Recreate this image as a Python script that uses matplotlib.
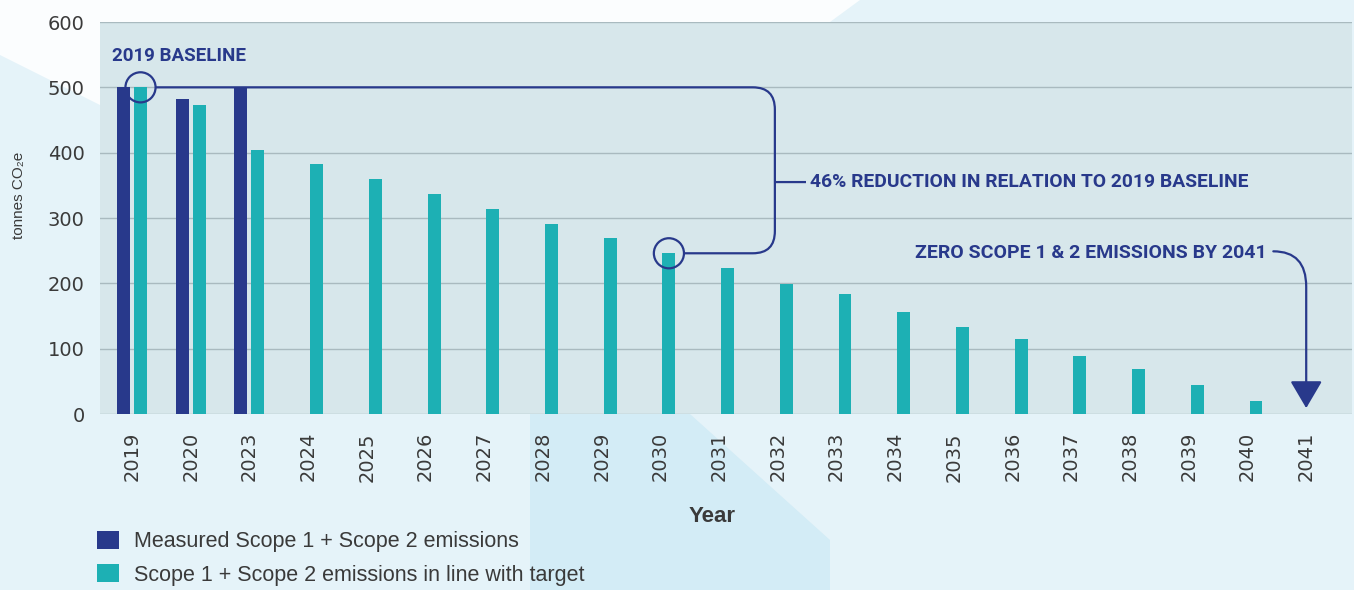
import numpy as np
import matplotlib
matplotlib.use("Agg")
import matplotlib.pyplot as plt
from matplotlib.path import Path
from matplotlib.patches import PathPatch, FancyArrowPatch, Polygon

# data
years = ["2019", "2020", "2023", "2024", "2025", "2026", "2027", "2028", "2029", "2030",
         "2031", "2032", "2033", "2034", "2035", "2036", "2037", "2038", "2039", "2040", "2041"]
target = [500, 473, 404, 382, 360, 337, 314, 291, 270, 246,
          224, 199, 183, 156, 133, 115, 89, 69, 44, 20, 0]
measured_years = ["2019", "2020", "2023"]
measured = [500, 482, 500]

NAVY = "#28398b"
TEAL = "#1db0b4"
TXT = "#3a3a3a"
SANS = ["Liberation Sans", "DejaVu Sans"]
COND = ["Roboto", "DejaVu Sans"]

W, H = 1354, 590
fig = plt.figure(figsize=(W / 100, H / 100), dpi=100)
fig.patch.set_facecolor("#e5f3f9")

# soft background shapes
def px(pts):
    return [(x / W, 1 - y / H) for x, y in pts]

fig.patches.append(Polygon(px([(0, 0), (860, 0), (830, 22), (100, 22), (100, 105), (0, 55)]),
                           closed=True, transform=fig.transFigure, fc="#fbfdfe", ec="none", zorder=-10))
fig.patches.append(Polygon(px([(530, 414), (690, 414), (830, 540), (830, 590), (530, 590)]),
                           closed=True, transform=fig.transFigure, fc="#d3ecf6", ec="none", zorder=-10))

ax = fig.add_axes([100 / W, 176 / H, 1252 / W, 392 / H])
ax.set_facecolor("#d7e7eb")
ax.set_xlim(-0.545, 20.78)
ax.set_ylim(0, 600)

x = np.arange(len(years))
off, bw = 0.145, 0.22
mx = np.array([years.index(y) for y in measured_years])
ax.bar(mx - off, measured, width=bw, color=NAVY, zorder=3,
       label="Measured Scope 1 + Scope 2 emissions")
ax.bar(x + off, target, width=bw, color=TEAL, zorder=3,
       label="Scope 1 + Scope 2 emissions in line with target")

for s in ax.spines.values():
    s.set_visible(False)
ax.set_yticks(np.arange(0, 601, 100))
ax.yaxis.grid(True, color="#a9babf", lw=1)
ax.set_axisbelow(True)
ax.set_xticks(x)
ax.set_xticklabels(years, rotation=90)
ax.tick_params(axis="both", length=0, labelsize=14, labelcolor=TXT)
ax.tick_params(axis="y", pad=11)
ax.tick_params(axis="x", pad=13)

fig.text(19 / W, 1 - 195 / H, "tonnes CO₂e", rotation=90, ha="center", va="center",
         fontsize=11, color=TXT, family=SANS)
fig.text(712 / W, 1 - 517 / H, "Year", ha="center", va="center", fontsize=16,
         fontweight="bold", color=TXT, family=SANS)

fig.legend(loc="upper left", bbox_to_anchor=(97 / W, 1 - 531 / H), frameon=False,
           borderpad=0, borderaxespad=0, handlelength=1.0, handleheight=0.9,
           handletextpad=0.7, labelspacing=0.55,
           prop={"family": SANS, "size": 15.5}, labelcolor=TXT)

# annotations, sized to the widths they take in the reference
ann = dict(color=NAVY, fontweight="bold", family=COND, fontsize=16, va="center")
t1 = ax.text(-0.34, 548, "2019 BASELINE", ha="left", **ann)
t2 = ax.text(11.55, 355, "46% REDUCTION IN RELATION TO 2019 BASELINE", ha="left", **ann)
t3 = ax.text(19.32, 247, "ZERO SCOPE 1 & 2 EMISSIONS BY 2041", ha="right", **ann)
renderer = fig.canvas.get_renderer()
for t, wpx in [(t1, 134), (t2, 438), (t3, 351)]:
    bb = t.get_window_extent(renderer)
    t.set_fontsize(t.get_fontsize() * wpx / bb.width)

ax.scatter([0 + off, 9 + off], [500, 246], s=470, facecolors="none", edgecolors=NAVY,
           linewidths=1.6, zorder=5)

rx, ry = 0.375, 34
xr, ytop, ybot = 10.95, 500, 246
verts = [(0.40, ytop), (xr - rx, ytop), (xr, ytop), (xr, ytop - ry),
         (xr, ybot + ry), (xr, ybot), (xr - rx, ybot), (9.40, ybot),
         (xr, 355), (11.48, 355)]
codes = [Path.MOVETO, Path.LINETO, Path.CURVE3, Path.CURVE3,
         Path.LINETO, Path.CURVE3, Path.CURVE3, Path.LINETO,
         Path.MOVETO, Path.LINETO]
ax.add_patch(PathPatch(Path(verts, codes), fc="none", ec=NAVY, lw=1.6, zorder=5))

arrow_path = Path([(19.44, 249), (20, 249), (20, 195), (20, 9)],
                  [Path.MOVETO, Path.CURVE3, Path.CURVE3, Path.LINETO])
ax.add_patch(FancyArrowPatch(path=arrow_path, arrowstyle="-|>,head_length=1.7,head_width=1.0",
                             mutation_scale=10, color=NAVY, lw=1.6, zorder=5))

fig.savefig("out.png", dpi=100, facecolor=fig.get_facecolor())
